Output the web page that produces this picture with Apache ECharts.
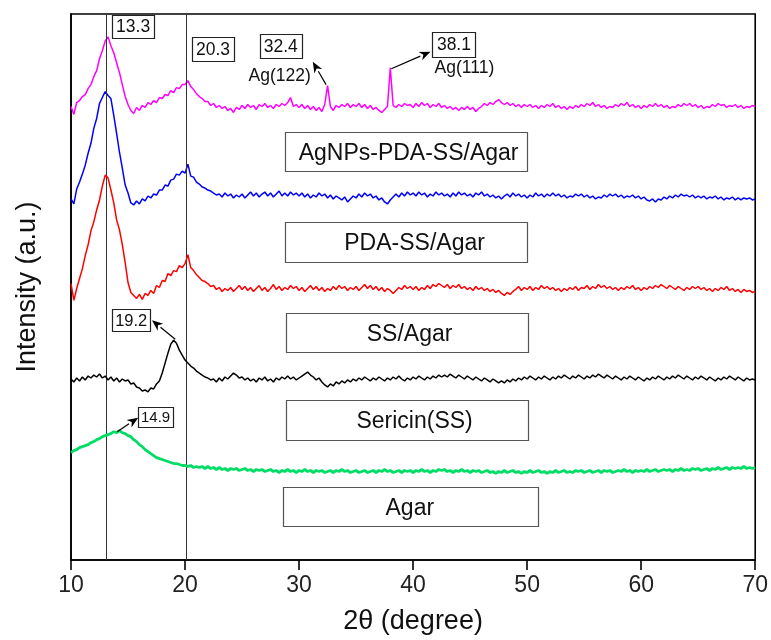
<!DOCTYPE html>
<html>
<head>
<meta charset="utf-8">
<script src="https://cdn.jsdelivr.net/npm/echarts@6/dist/echarts.min.js"></script>
<style>html,body{margin:0;padding:0;background:#fff}#c{width:771px;height:640px}</style>
</head>
<body>
<div id="c"></div>
<script>
// 2θ sampling grid: 10 to 70 degrees, step 0.25
const twoTheta = [];
for (let i = 0; i <= 240; i++) twoTheta.push(10 + i * 0.25);
const xTicks = [10, 20, 30, 40, 50, 60, 70];

// Intensities (a.u., vertically offset as stacked in the figure), one value per 2θ step
const agnpsPdaSsAgar = [
456,448,460,462,466,468,474,478,486,492,504,512,522,526,517,510,500,490,478,466,
458,452,449,455,452,457,455,460,458,462,460,465,464,468,467,472,470,475,474,478,
478,482,476,473,469,466,464,461,461,457,459,455,457,454,456,452,454,450,455,453,
457,454,458,455,457,453,458,456,459,455,457,454,458,456,459,457,460,465,456,458,
455,458,454,457,453,456,452,455,451,458,477,456,452,457,455,458,456,459,455,458,
456,459,455,458,454,457,453,455,452,450,453,456,495,457,455,458,456,459,457,458,
455,459,456,460,457,459,455,458,456,459,455,457,454,456,453,455,452,455,453,456,
453,455,451,454,456,459,457,460,458,461,463,460,458,460,457,459,456,458,455,458,
456,458,455,457,454,457,455,458,456,459,455,457,454,456,453,456,454,457,455,458,
456,459,457,460,456,458,455,457,454,456,455,458,456,459,457,460,456,458,455,457,
454,457,455,458,456,459,456,458,455,457,454,456,455,458,456,459,457,459,456,458,
455,457,454,456,455,458,456,459,457,458,455,457,456,458,455,457,454,456,455,457,
456];
const pdaSsAgar = [
363,358,373,380,388,397,409,419,434,444,459,465,471,467,464,447,429,410,394,377,
369,359,357,361,358,363,361,366,364,368,367,372,372,377,376,382,383,388,387,391,
389,398,386,385,380,378,375,374,372,371,369,367,368,365,369,366,368,364,367,365,
368,364,367,370,366,369,365,368,370,366,369,365,368,371,366,369,366,370,367,369,
366,369,365,368,364,367,365,369,366,368,364,367,363,366,364,362,365,360,363,366,
364,368,365,369,366,368,364,366,362,364,360,358,362,365,368,365,369,366,370,367,
369,366,370,367,369,365,368,366,370,367,369,366,368,365,369,366,370,367,369,366,
368,365,369,367,370,366,368,365,367,364,366,363,366,368,365,369,366,368,365,367,
364,367,365,369,366,368,365,368,366,369,366,368,365,367,364,366,365,368,366,368,
365,367,364,366,363,365,364,367,365,368,366,368,365,367,364,366,365,367,364,366,
363,365,362,361,363,360,363,362,365,363,366,364,367,365,368,366,367,365,367,364,
366,364,366,363,365,364,366,363,365,362,364,363,365,362,364,362,364,363,364,362,
363];
const ssAgar = [
278,261,273,283,293,306,317,331,340,352,362,376,387,384,372,359,342,332,317,299,
279,269,266,263,267,262,268,266,271,268,276,274,281,280,288,286,291,290,296,294,
298,307,294,291,287,284,281,280,278,275,276,272,274,270,273,271,274,270,273,276,
272,275,271,274,270,273,276,271,274,270,273,277,272,275,271,274,272,276,273,275,
271,274,270,273,276,272,275,271,274,270,273,271,275,272,276,273,275,271,274,272,
275,271,274,277,273,276,272,275,271,274,270,273,271,268,271,274,272,276,273,275,
272,275,271,274,272,276,273,277,275,278,276,274,277,273,276,274,277,273,275,272,
274,271,275,272,274,271,273,270,272,269,271,268,266,269,267,270,272,275,271,274,
272,275,271,274,272,276,273,275,272,274,271,273,270,273,271,274,272,275,271,274,
273,276,272,275,273,277,274,276,273,275,272,274,271,274,272,275,273,276,272,274,
271,274,272,275,273,276,274,277,275,273,276,274,272,275,273,271,274,272,275,273,
275,272,274,271,273,270,273,271,274,272,275,271,273,270,272,269,272,270,271,269,
270];
const sericin = [
182,179,183,180,184,181,185,183,186,184,187,183,185,181,184,180,183,179,182,180,
181,177,178,174,173,170,171,169,173,172,177,180,188,198,208,217,221,218,211,206,
201,198,195,193,190,188,186,184,183,181,182,179,183,180,184,182,185,188,186,183,
184,181,183,180,182,179,183,181,184,180,182,179,183,181,184,182,185,182,184,181,
183,185,187,189,186,184,181,183,179,176,174,177,175,179,177,180,178,181,179,182,
180,183,181,184,182,180,183,181,184,182,180,183,181,184,182,185,182,180,183,181,
184,182,185,183,181,184,182,185,183,186,184,186,184,187,185,183,186,184,182,185,
183,181,184,182,180,183,181,179,182,180,178,180,178,181,179,182,180,183,181,184,
182,185,183,181,184,182,185,183,181,184,182,185,183,186,184,182,185,183,186,184,
182,185,183,186,184,187,185,183,186,184,182,185,183,181,184,182,185,183,181,184,
182,180,183,181,184,182,185,183,181,184,182,185,183,186,184,182,185,183,181,184,
182,185,183,181,184,182,180,183,181,184,182,185,183,181,184,182,180,183,181,182,
181];
const agar = [
108,110,111,113,114,115,116,118,119,121,122,124,125,126,127,129,128,130,128,127,
125,124,121,119,116,114,111,109,107,105,103,102,101,100,99,98,97,97,96,95,
95,94,95,93,94,93,94,92,94,92,93,91,93,91,92,90,92,91,92,90,
91,92,90,91,89,91,90,91,89,90,91,89,90,88,90,89,91,89,90,88,
90,89,91,89,90,88,90,89,90,88,89,90,88,90,89,91,89,90,88,89,
90,88,89,90,88,89,90,88,90,89,91,89,90,88,89,90,88,90,89,90,
88,90,89,91,89,90,88,90,89,91,90,91,89,90,88,90,89,91,89,90,
88,90,89,90,88,89,90,88,89,87,89,88,90,88,89,90,88,89,87,89,
88,90,88,89,90,88,89,87,89,88,90,88,89,90,88,89,88,90,89,90,
88,89,90,88,89,90,88,90,89,90,88,89,90,89,91,89,90,88,90,89,
90,89,91,89,90,91,89,90,91,90,91,89,91,90,92,90,91,90,92,91,
92,90,91,92,90,92,91,93,91,92,93,91,93,92,93,92,94,92,93,92,
93];

const seriesNames = ['AgNPs-PDA-SS/Agar', 'PDA-SS/Agar', 'SS/Agar', 'Sericin(SS)', 'Agar'];
const seriesValues = [agnpsPdaSsAgar, pdaSsAgar, ssAgar, sericin, agar];
const peakLines = [13.05, 20.1];

// styles / annotation layout (kept apart from data)
const colors = ['#ff00ff', '#0000ff', '#ff0000', '#000000', '#00dd66'];
const widths = [1.5, 1.5, 1.5, 1.5, 2.8];
const FONT = "'Liberation Sans', Arial, Helvetica, sans-serif";

const peakBoxes = [
  { text: '13.3', at: [15.45, 536.5], w: 42, h: 23, size: 17.5 },
  { text: '20.3', at: [22.45, 514], w: 42, h: 24, size: 17.5 },
  { text: '32.4', at: [28.40, 517], w: 42, h: 24, size: 17.5 },
  { text: '38.1', at: [43.58, 518.5], w: 43, h: 25, size: 17.5 },
  { text: '19.2', at: [15.28, 241], w: 38, h: 22, size: 16.5 },
  { text: '14.9', at: [17.42, 144], w: 35, h: 20, size: 15 }
];
const plainTexts = [
  { text: 'Ag(122)', at: [28.3, 486], size: 17.5 },
  { text: 'Ag(111)', at: [44.5, 495], size: 17.5 }
];
const arrows = [
  [[32.37, 478], [31.2, 501]],
  [[38.09, 494], [41.52, 511]],
  [[19.14, 222], [17.1, 241]],
  [[14.05, 129], [15.89, 143]]
];
const nameBoxes = [
  { text: 'AgNPs-PDA-SS/Agar', at: [39.34, 410.5], w: 242, h: 39, dx: 3 },
  { text: 'PDA-SS/Agar', at: [39.34, 320], w: 242, h: 40, dx: 9 },
  { text: 'SS/Agar', at: [39.43, 228.5], w: 242, h: 39, dx: 3 },
  { text: 'Sericin(SS)', at: [39.43, 141], w: 242, h: 40, dx: 8 },
  { text: 'Agar', at: [39.8, 53.5], w: 255, h: 39, dx: -1 }
];

const chart = echarts.init(document.getElementById('c'), null, { renderer: 'canvas' });

const series = seriesValues.map((vals, k) => ({
  name: seriesNames[k],
  type: 'line',
  data: vals.map((v, i) => [twoTheta[i], v]),
  symbol: 'none',
  showSymbol: false,
  lineStyle: { color: colors[k], width: widths[k] },
  itemStyle: { color: colors[k] },
  z: 3 + k,
  animation: false
}));
series[0].markLine = {
  silent: true, symbol: 'none', animation: false,
  label: { show: false },
  lineStyle: { color: '#333', width: 1, type: 'solid' },
  data: peakLines.map(x => ({ xAxis: x }))
};

chart.setOption({
  animation: false,
  backgroundColor: '#fff',
  grid: { left: 71, right: 15, top: 14, bottom: 77, show: true, borderColor: '#000', borderWidth: 1.6, backgroundColor: 'transparent' },
  xAxis: {
    type: 'value', min: 10, max: 70, interval: 10,
    name: '2θ (degree)', nameLocation: 'middle', nameGap: 48,
    nameTextStyle: { fontFamily: FONT, fontSize: 27, color: '#111' },
    axisLine: { show: true, lineStyle: { color: '#000', width: 1.6 } },
    axisTick: { show: true, inside: false, length: 10, lineStyle: { color: '#000', width: 1.6 } },
    axisLabel: { fontFamily: FONT, fontSize: 23, color: '#222', margin: 14,
      formatter: v => (xTicks.indexOf(v) >= 0 ? String(v) : '') },
    splitLine: { show: false }
  },
  yAxis: {
    type: 'value', min: 0, max: 549,
    name: 'Intensity (a.u.)', nameLocation: 'middle', nameGap: 30,
    nameTextStyle: { fontFamily: FONT, fontSize: 27, color: '#111' },
    axisLine: { show: true, lineStyle: { color: '#000', width: 1.6 } },
    axisTick: { show: false }, axisLabel: { show: false }, splitLine: { show: false }
  },
  series: series
});

const px = p => chart.convertToPixel({ gridIndex: 0 }, p);
const graphics = [];
arrows.forEach(a => {
  const p0 = px(a[0]), p1 = px(a[1]);
  const dx = p1[0] - p0[0], dy = p1[1] - p0[1];
  const L = Math.sqrt(dx * dx + dy * dy), ux = dx / L, uy = dy / L;
  const hl = 11, hw = 4.5;
  const bx = p1[0] - ux * hl, by = p1[1] - uy * hl;
  graphics.push({ type: 'line', silent: true, z: 22,
    shape: { x1: p0[0], y1: p0[1], x2: bx, y2: by },
    style: { stroke: '#000', lineWidth: 1.2 } });
  graphics.push({ type: 'polygon', silent: true, z: 22,
    shape: { points: [[p1[0], p1[1]], [bx - uy * hw, by + ux * hw], [p1[0] - ux * hl * 0.7, p1[1] - uy * hl * 0.7], [bx + uy * hw, by - ux * hw]] },
    style: { fill: '#000' } });
});
peakBoxes.forEach(b => {
  const c = px(b.at);
  graphics.push({ type: 'rect', silent: true, z: 20,
    shape: { x: Math.round(c[0] - b.w / 2) + 0.5, y: Math.round(c[1] - b.h / 2) + 0.5, width: b.w, height: b.h },
    style: { fill: '#fff', stroke: '#222', lineWidth: 1.2 } });
  graphics.push({ type: 'text', silent: true, z: 21, x: c[0], y: c[1] + 1,
    style: { text: b.text, font: b.size + 'px ' + FONT, fill: '#111', textAlign: 'center', textVerticalAlign: 'middle', align: 'center', verticalAlign: 'middle' } });
});
plainTexts.forEach(t => {
  const c = px(t.at);
  graphics.push({ type: 'text', silent: true, z: 21, x: c[0], y: c[1],
    style: { text: t.text, font: t.size + 'px ' + FONT, fill: '#111', textAlign: 'center', textVerticalAlign: 'middle', align: 'center', verticalAlign: 'middle' } });
});
nameBoxes.forEach(b => {
  const c = px(b.at);
  graphics.push({ type: 'rect', silent: true, z: 20,
    shape: { x: Math.round(c[0] - b.w / 2) + 0.5, y: Math.round(c[1] - b.h / 2) + 0.5, width: b.w, height: b.h },
    style: { fill: '#fff', stroke: '#555', lineWidth: 1.2 } });
  graphics.push({ type: 'text', silent: true, z: 21, x: c[0] + b.dx, y: c[1] + 2,
    style: { text: b.text, font: '23px ' + FONT, fill: '#111', textAlign: 'center', textVerticalAlign: 'middle', align: 'center', verticalAlign: 'middle' } });
});
chart.setOption({ graphic: graphics });
</script>
</body>
</html>
